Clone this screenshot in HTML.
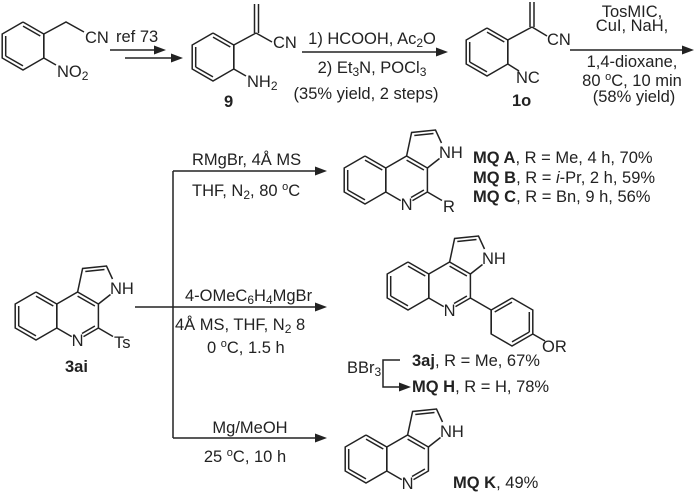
<!DOCTYPE html>
<html><head><meta charset="utf-8"><style>
html,body{margin:0;padding:0;background:#fff;}
svg{display:block;}
text{font-family:"Liberation Sans",Arial,sans-serif;font-size:16.5px;fill:#222;}
.b{font-weight:bold;}
line,polyline{stroke:#222;stroke-width:1.5;fill:none;}
.ah,.vr{fill:#222;stroke:none;}
</style></head><body>
<svg width="700" height="492" viewBox="0 0 700 492" xmlns="http://www.w3.org/2000/svg">

<!-- explicit vertical ring edges -->
<rect class="vr" x="43" y="34" width="1.6" height="24"/>
<rect class="vr" x="233" y="45" width="1.6" height="24"/>
<rect class="vr" x="507" y="40" width="1.6" height="24"/>
<rect class="vr" x="56" y="304" width="1.6" height="24"/>
<rect class="vr" x="385" y="168" width="1.6" height="24"/>
<rect class="vr" x="428" y="274" width="1.6" height="24"/>
<rect class="vr" x="386" y="447" width="1.6" height="24"/>
<rect class="vr" x="490.4" y="310" width="1.6" height="24"/>

<!-- Compound 1 -->
<g transform="translate(23,46)">
<polyline points="0,-24 20.8,-12 20.8,12 0,24 -20.8,12 -20.8,-12 0,-24"/>
<line x1="0" y1="-19.9" x2="17.3" y2="-10"/><line x1="0" y1="19.9" x2="-17.3" y2="10"/><line x1="-17.3" y1="10" x2="-17.3" y2="-10"/>
</g>
<polyline points="43.8,34 66,22 84,32"/>
<line x1="43.8" y1="58" x2="56" y2="65"/>
<text x="85" y="43">CN</text>
<text x="57" y="77">NO<tspan font-size="12" dy="3">2</tspan></text>

<!-- ref 73 arrows -->
<text x="116" y="42">ref 73</text>
<line x1="110" y1="50" x2="158" y2="50"/>
<polygon class="ah" points="166,50 154,45.5 154,54.5"/>
<line x1="125" y1="58" x2="175" y2="58"/>
<polygon class="ah" points="183,58 171,53.5 171,62.5"/>

<!-- Compound 9 -->
<g transform="translate(213,57)">
<polyline points="0,-24 20.8,-12 20.8,12 0,24 -20.8,12 -20.8,-12 0,-24"/>
<line x1="0" y1="-19.9" x2="17.3" y2="-10"/><line x1="0" y1="19.9" x2="-17.3" y2="10"/><line x1="-17.3" y1="10" x2="-17.3" y2="-10"/>
</g>
<line x1="233.8" y1="45" x2="256" y2="33"/>
<line x1="254.5" y1="33" x2="254.5" y2="4"/>
<line x1="258.5" y1="33" x2="258.5" y2="4"/>
<line x1="256" y1="33" x2="272" y2="42"/>
<text x="273" y="48">CN</text>
<line x1="233.8" y1="69" x2="246" y2="76"/>
<text x="247" y="87">NH<tspan font-size="12" dy="3">2</tspan></text>
<text class="b" x="224" y="107">9</text>

<!-- Arrow 2 -->
<line x1="302" y1="52" x2="440" y2="52"/>
<polygon class="ah" points="448,52 436,47.5 436,56.5"/>
<text x="372" y="44" text-anchor="middle">1) HCOOH, Ac<tspan font-size="12" dy="3">2</tspan><tspan dy="-3">O</tspan></text>
<text x="372" y="73" text-anchor="middle">2) Et<tspan font-size="12" dy="3">3</tspan><tspan dy="-3">N, POCl</tspan><tspan font-size="12" dy="3">3</tspan></text>
<text x="366" y="99" text-anchor="middle">(35% yield, 2 steps)</text>

<!-- Compound 1o -->
<g transform="translate(487,52)">
<polyline points="0,-24 20.8,-12 20.8,12 0,24 -20.8,12 -20.8,-12 0,-24"/>
<line x1="0" y1="-19.9" x2="17.3" y2="-10"/><line x1="0" y1="19.9" x2="-17.3" y2="10"/><line x1="-17.3" y1="10" x2="-17.3" y2="-10"/>
</g>
<line x1="507.8" y1="40" x2="532" y2="27"/>
<line x1="530" y1="27" x2="530" y2="2"/>
<line x1="534" y1="27" x2="534" y2="2"/>
<line x1="532" y1="27" x2="547" y2="36"/>
<text x="547" y="45">CN</text>
<line x1="507.8" y1="64" x2="519" y2="71"/>
<text x="516" y="83">NC</text>
<text class="b" x="512" y="106">1o</text>

<!-- Arrow 3 -->
<line x1="570" y1="50" x2="686" y2="50"/>
<polygon class="ah" points="694,50 682,45.5 682,54.5"/>
<text x="632" y="17" text-anchor="middle">TosMIC,</text>
<text x="632" y="31" text-anchor="middle">CuI, NaH,</text>
<text x="632" y="67" text-anchor="middle">1,4-dioxane,</text>
<text x="632" y="86" text-anchor="middle">80 <tspan font-size="11" dy="-6">o</tspan><tspan dy="6">C, 10 min</tspan></text>
<text x="634" y="102" text-anchor="middle">(58% yield)</text>

<!-- 3ai -->
<g transform="translate(36,316)">
<polyline points="0,-24 20.8,-12 20.8,12 0,24 -20.8,12 -20.8,-12 0,-24"/>
<line x1="0" y1="-19.9" x2="17.3" y2="-10"/><line x1="0" y1="19.9" x2="-17.3" y2="10"/><line x1="-17.3" y1="10" x2="-17.3" y2="-10"/>
<polyline points="20.8,-12 41.6,-24 62.4,-12 62.4,12 47.5,20.6"/>
<line x1="35.7" y1="20.6" x2="20.8" y2="12"/>
<line x1="41.6" y1="-19.9" x2="58.9" y2="-10"/><line x1="58.9" y1="10" x2="46" y2="17.5"/>
<polyline points="41.6,-24 46.6,-47.5 70.5,-50 76.5,-37"/>
<line x1="74.5" y1="-21.5" x2="62.4" y2="-12"/><line x1="49.3" y1="-44.5" x2="68.5" y2="-46.5"/>
<text x="41.6" y="30" text-anchor="middle">N</text>
<text x="74" y="-22">NH</text>
<line x1="62.4" y1="12" x2="77" y2="20.5"/>
<text x="78" y="32">Ts</text>
</g>
<text class="b" x="65" y="372">3ai</text>

<!-- branching lines -->
<line x1="135" y1="307" x2="173" y2="307"/>
<line x1="173" y1="171" x2="173" y2="438"/>
<line x1="173" y1="171" x2="318" y2="171"/>
<polygon class="ah" points="327,171 315,166.5 315,175.5"/>
<line x1="173" y1="307" x2="318" y2="307"/>
<polygon class="ah" points="327,307 315,302.5 315,311.5"/>
<line x1="173" y1="438" x2="318" y2="438"/>
<polygon class="ah" points="327,438 315,433.5 315,442.5"/>

<text x="192" y="165">RMgBr, 4Å MS</text>
<text x="192" y="196">THF, N<tspan font-size="12" dy="3">2</tspan><tspan dy="-3">, 80 </tspan><tspan font-size="11" dy="-6">o</tspan><tspan dy="6">C</tspan></text>
<text x="185" y="301">4-OMeC<tspan font-size="12" dy="3">6</tspan><tspan dy="-3">H</tspan><tspan font-size="12" dy="3">4</tspan><tspan dy="-3">MgBr</tspan></text>
<text x="175" y="330">4Å MS, THF, N<tspan font-size="12" dy="3">2</tspan><tspan dy="-3"> 8</tspan></text>
<text x="207" y="353">0 <tspan font-size="11" dy="-6">o</tspan><tspan dy="6">C, 1.5 h</tspan></text>
<text x="250" y="433" text-anchor="middle">Mg/MeOH</text>
<text x="245" y="462" text-anchor="middle">25 <tspan font-size="11" dy="-6">o</tspan><tspan dy="6">C, 10 h</tspan></text>

<!-- MQ A/B/C -->
<g transform="translate(365,180)">
<polyline points="0,-24 20.8,-12 20.8,12 0,24 -20.8,12 -20.8,-12 0,-24"/>
<line x1="0" y1="-19.9" x2="17.3" y2="-10"/><line x1="0" y1="19.9" x2="-17.3" y2="10"/><line x1="-17.3" y1="10" x2="-17.3" y2="-10"/>
<polyline points="20.8,-12 41.6,-24 62.4,-12 62.4,12 47.5,20.6"/>
<line x1="35.7" y1="20.6" x2="20.8" y2="12"/>
<line x1="41.6" y1="-19.9" x2="58.9" y2="-10"/><line x1="58.9" y1="10" x2="46" y2="17.5"/>
<polyline points="41.6,-24 46.6,-47.5 70.5,-50 76.5,-37"/>
<line x1="74.5" y1="-21.5" x2="62.4" y2="-12"/><line x1="49.3" y1="-44.5" x2="68.5" y2="-46.5"/>
<text x="41.6" y="30" text-anchor="middle">N</text>
<text x="74" y="-22">NH</text>
<line x1="62.4" y1="12" x2="77" y2="20.5"/>
<text x="78" y="32">R</text>
</g>
<text x="473" y="163"><tspan class="b">MQ A</tspan>, R = Me, 4 h, 70%</text>
<text x="473" y="183"><tspan class="b">MQ B</tspan>, R = <tspan font-style="italic">i</tspan>-Pr, 2 h, 59%</text>
<text x="473" y="202"><tspan class="b">MQ C</tspan>, R = Bn, 9 h, 56%</text>

<!-- 3aj / MQ H -->
<g transform="translate(408,286)">
<polyline points="0,-24 20.8,-12 20.8,12 0,24 -20.8,12 -20.8,-12 0,-24"/>
<line x1="0" y1="-19.9" x2="17.3" y2="-10"/><line x1="0" y1="19.9" x2="-17.3" y2="10"/><line x1="-17.3" y1="10" x2="-17.3" y2="-10"/>
<polyline points="20.8,-12 41.6,-24 62.4,-12 62.4,12 47.5,20.6"/>
<line x1="35.7" y1="20.6" x2="20.8" y2="12"/>
<line x1="41.6" y1="-19.9" x2="58.9" y2="-10"/><line x1="58.9" y1="10" x2="46" y2="17.5"/>
<polyline points="41.6,-24 46.6,-47.5 70.5,-50 76.5,-37"/>
<line x1="74.5" y1="-21.5" x2="62.4" y2="-12"/><line x1="49.3" y1="-44.5" x2="68.5" y2="-46.5"/>
<text x="41.6" y="30" text-anchor="middle">N</text>
<text x="74" y="-22">NH</text>
</g>
<line x1="470.4" y1="298" x2="491.2" y2="310"/>
<g transform="translate(512,322)">
<polyline points="0,-24 20.8,-12 20.8,12 0,24 -20.8,12 -20.8,-12 0,-24"/>
<line x1="0" y1="-19.9" x2="-17.3" y2="-10"/><line x1="0" y1="19.9" x2="17.3" y2="10"/><line x1="17.3" y1="10" x2="17.3" y2="-10"/>
</g>
<line x1="532.8" y1="334" x2="545" y2="341"/>
<text x="542" y="352">OR</text>
<text x="412" y="366"><tspan class="b">3aj</tspan>, R = Me, 67%</text>
<text x="412" y="392"><tspan class="b">MQ H</tspan>, R = H, 78%</text>
<text x="347" y="373">BBr<tspan font-size="12" dy="3">3</tspan></text>
<polyline points="400,360 383,360 383,387 402,387"/>
<polygon class="ah" points="411,387 399,382.5 399,391.5"/>

<!-- MQ K -->
<g transform="translate(366,459)">
<polyline points="0,-24 20.8,-12 20.8,12 0,24 -20.8,12 -20.8,-12 0,-24"/>
<line x1="0" y1="-19.9" x2="17.3" y2="-10"/><line x1="0" y1="19.9" x2="-17.3" y2="10"/><line x1="-17.3" y1="10" x2="-17.3" y2="-10"/>
<polyline points="20.8,-12 41.6,-24 62.4,-12 62.4,12 47.5,20.6"/>
<line x1="35.7" y1="20.6" x2="20.8" y2="12"/>
<line x1="41.6" y1="-19.9" x2="58.9" y2="-10"/><line x1="58.9" y1="10" x2="46" y2="17.5"/>
<polyline points="41.6,-24 46.6,-47.5 70.5,-50 76.5,-37"/>
<line x1="74.5" y1="-21.5" x2="62.4" y2="-12"/><line x1="49.3" y1="-44.5" x2="68.5" y2="-46.5"/>
<text x="41.6" y="30" text-anchor="middle">N</text>
<text x="74" y="-22">NH</text>
</g>
<text x="453" y="488"><tspan class="b">MQ K</tspan>, 49%</text>
</svg>
</body></html>
